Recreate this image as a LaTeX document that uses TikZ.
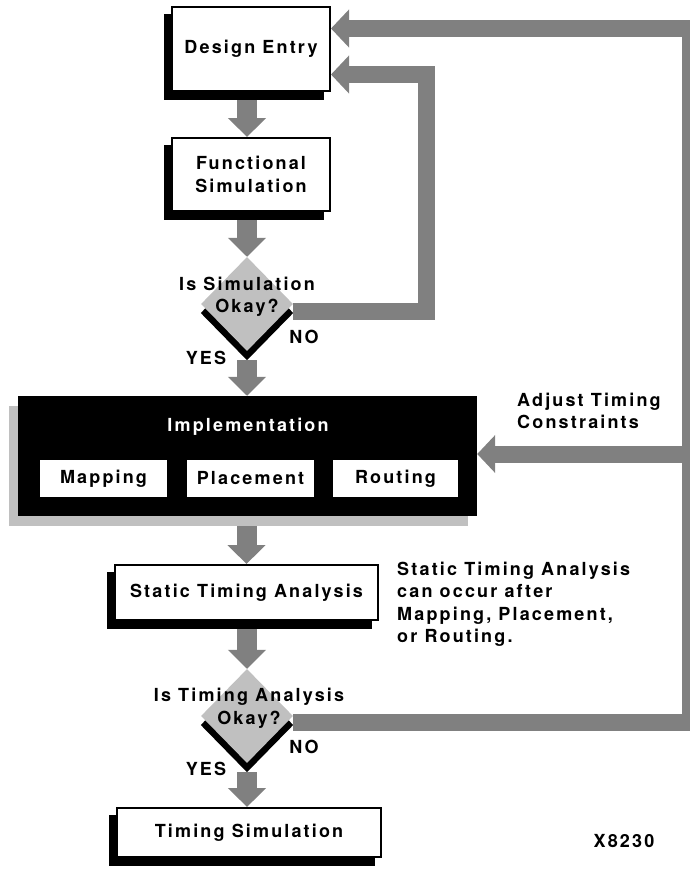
\documentclass[tikz,border=0pt]{standalone}
\usepackage{fontspec}
\setmainfont{TeX Gyre Heros}[LetterSpace=12]
\usetikzlibrary{arrows.meta,shapes.geometric,backgrounds}
\definecolor{flowgray}{RGB}{128,128,128}
\definecolor{palegray}{RGB}{192,192,192}

\begin{document}
\begin{tikzpicture}[x=1pt, y=-1pt,
    font=\fontsize{18}{22.5}\selectfont\bfseries,
    flowbox/.style={draw=black, line width=2pt, fill=white, inner sep=0pt, align=center},
    decision/.style={diamond, fill=palegray, inner sep=0pt, minimum width=92pt, minimum height=94pt},
    stagebox/.style={fill=white, inner sep=0pt, minimum height=37pt},
    fatarrow/.style={draw=flowgray, line width=20pt, -{Triangle[length=19pt, width=37pt]}},
    looparrow/.style={draw=flowgray, line width=17pt, line join=miter, -{Triangle[length=18pt, width=37pt]}},
    ]
    \useasboundingbox (0,0) rectangle (690,870);

    % main flow
    \node[flowbox, minimum width=158pt, minimum height=84pt] (entry) at (251,49) {Design Entry};
    \node[flowbox, minimum width=158pt, minimum height=73pt] (func) at (251,174.5) {Functional\\Simulation};
    \node[decision] (simok) at (247,304) {};
    \node[fill=black, inner sep=0pt, minimum width=459pt, minimum height=120pt] (impl) at (247.5,456) {};
    \node[text=white] (impltitle) at (248,427) {Implementation};
    \foreach \n/\x/\w/\t in {mapping/103.5/127/Mapping, placement/250.5/127/Placement, routing/395.5/125/Routing} {
        \node[stagebox, minimum width=\w pt] (\n) at (\x,478.5) {\t};
    }
    \node[flowbox, minimum width=263pt, minimum height=55pt] (sta) at (246.5,592.5) {Static Timing Analysis};
    \node[decision] (timeok) at (247,716) {};
    \node[flowbox, minimum width=264pt, minimum height=49pt] (timesim) at (249,832.5) {Timing Simulation};

    % shadows
    \begin{scope}[on background layer]
        \foreach \b in {entry, func, sta, timesim} {
            \fill[black] ([xshift=-7pt,yshift=-8pt]\b.south west) rectangle ([xshift=-7pt,yshift=-8pt]\b.north east);
        }
        \fill[palegray] ([xshift=-9pt,yshift=-10pt]impl.south west) rectangle ([xshift=-9pt,yshift=-10pt]impl.north east);
        \foreach \d in {simok, timeok} {
            \fill[black] ([yshift=-9pt]\d.north) -- ([yshift=-9pt]\d.east) -- ([yshift=-9pt]\d.south) -- ([yshift=-9pt]\d.west) -- cycle;
        }
    \end{scope}

    % downward arrows
    \draw[fatarrow] ([yshift=-8pt]entry.south -| simok.north) -- (simok.north |- func.north);
    \draw[fatarrow] ([yshift=-8pt]func.south -| simok.north) -- (simok.north);
    \draw[fatarrow] ([yshift=-9pt]simok.south) -- (simok.south |- impl.north);
    \draw[fatarrow] ([yshift=-10pt]impl.south -| sta.north) -- (sta.north);
    \draw[fatarrow] ([yshift=-8pt]sta.south -| timeok.north) -- (timeok.north);
    \draw[fatarrow] ([yshift=-9pt]timeok.south) -- (timeok.south |- timesim.north);

    % feedback loops
    \coordinate (simloop) at (426,74.5);
    \coordinate (toploop) at (690.5,28.5);
    \coordinate (adjust) at (690.5,454);
    \draw[looparrow] ([yshift=-7pt]simok.east) -| (simloop) -- (simloop -| entry.east);
    \draw[looparrow] ([yshift=-6pt]timeok.east) -| (toploop) -- (toploop -| entry.east);
    \draw[looparrow] (adjust) -- (adjust -| impl.east);

    % decision texts
    \node[align=center, inner sep=0pt] (simq) at (247,297) {Is Simulation\\Okay?};
    \node[align=center, inner sep=0pt] (timeq) at (249,708.5) {Is Timing Analysis\\Okay?};
    \node (simno) at (304,337) {NO};
    \node (simyes) at (206,358) {YES};
    \node (timeno) at (304,747) {NO};
    \node (timeyes) at (206,769) {YES};

    % notes
    \node[anchor=west, align=left, inner sep=0pt] (adjustlabel) at (517,411) {Adjust Timing\\Constraints};
    \node[anchor=west, align=left, inner sep=0pt] (stanote) at (397,604) {Static Timing Analysis\\can occur after\\Mapping, Placement,\\or Routing.};
    \node (figid) at (624,841) {X8230};
\end{tikzpicture}
\end{document}
